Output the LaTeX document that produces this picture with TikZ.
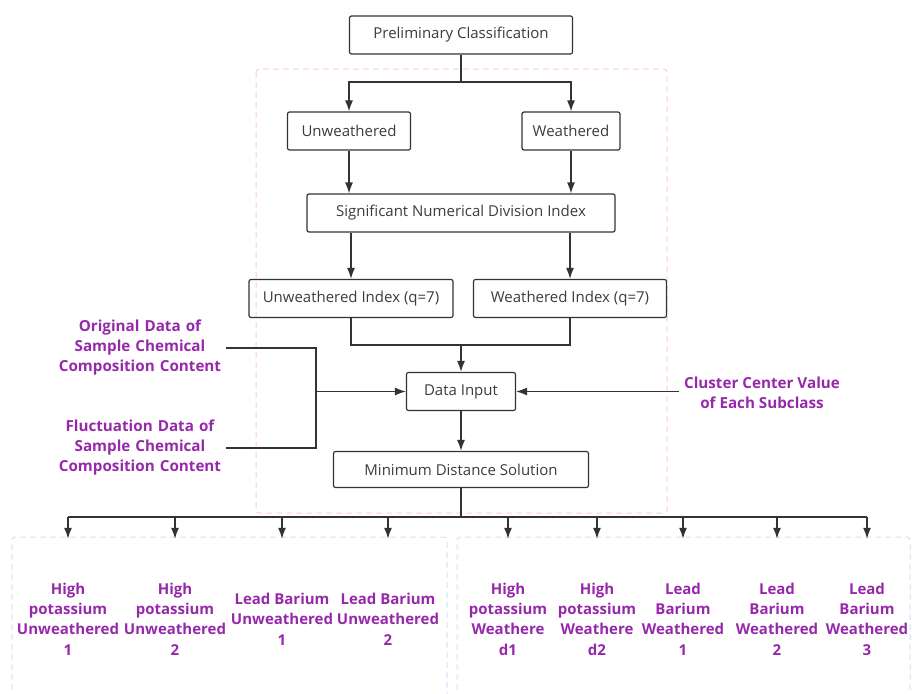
\documentclass[tikz,border=0pt]{standalone}
\usepackage{fontspec}
\setmainfont{Open Sans}
\usetikzlibrary{arrows.meta}
\definecolor{boxtext}{RGB}{60,60,60}
\definecolor{lblpurple}{RGB}{150,40,170}
\definecolor{pinkline}{RGB}{255,205,210}
\definecolor{blueline}{RGB}{205,228,248}

\begin{document}
\begin{tikzpicture}[x=1pt,y=-1pt,
    box/.style={draw=black!80,line width=1.2pt,rounded corners=2pt,text=boxtext,
      font=\fontsize{15}{18}\selectfont,minimum height=38pt,inner sep=2pt},
    sidelbl/.style={text=lblpurple,font=\fontsize{15.2}{20}\selectfont\bfseries,
      align=center,inner sep=0pt},
    classlbl/.style={text=lblpurple,font=\fontsize{15}{20.4}\selectfont\bfseries,
      align=center,minimum height=160pt,inner sep=0pt},
    arr/.style={-{Latex[length=11pt,width=8pt]},line width=1.3pt,black!80},
    link/.style={line width=1.3pt,black!80}]
  \useasboundingbox (0,0) rectangle (912,693);

  % dashed groups
  \draw[pinkline,line width=1pt,dash pattern=on 6pt off 4pt,rounded corners=3pt]
    (256,69) rectangle (667,513);
  \draw[blueline,line width=1pt,dash pattern=on 6pt off 4pt,rounded corners=3pt]
    (12,700) |- (447,537) -- (447,700);
  \draw[blueline,line width=1pt,dash pattern=on 6pt off 4pt,rounded corners=3pt]
    (457,700) |- (910,537) -- (910,700);

  % flow boxes
  \node[box,minimum width=223pt] (pc) at (461,35) {Preliminary Classification};
  \node[box,minimum width=123pt] (unw) at (349,131) {Unweathered};
  \node[box,minimum width=98pt] (wth) at (571,131) {Weathered};
  \node[box,minimum width=308pt] (sndi) at (461,213) {Significant Numerical Division Index};
  \node[box,minimum width=204pt] (unwi) at (351,298.5) {Unweathered Index (q=7)};
  \node[box,minimum width=193pt] (wthi) at (570,298.5) {Weathered Index (q=7)};
  \node[box,minimum width=109pt] (din) at (461,391.5) {Data Input};
  \node[box,minimum width=255pt,minimum height=36pt] (mds) at (461,469.5) {Minimum Distance Solution};

  % side inputs
  \node[sidelbl,text width=172pt] (orig) at (140,348)
    {Original Data of\\Sample Chemical\\Composition Content};
  \node[sidelbl,text width=172pt] (fluc) at (140,448)
    {Fluctuation Data of\\Sample Chemical\\Composition Content};
  \node[sidelbl,inner xsep=5pt] (clus) at (762,393)
    {Cluster Center Value\\of Each Subclass};

  % subclasses
  \node[classlbl] (k1) at (68,619) {High\\potassium\\Unweathered\\1};
  \node[classlbl] (k2) at (175,619) {High\\potassium\\Unweathered\\2};
  \node[classlbl] (k3) at (282,619) {Lead Barium\\Unweathered\\1};
  \node[classlbl] (k4) at (388,619) {Lead Barium\\Unweathered\\2};
  \node[classlbl] (k5) at (508,619) {High\\potassium\\Weathere\\d1};
  \node[classlbl] (k6) at (597,619) {High\\potassium\\Weathere\\d2};
  \node[classlbl] (k7) at (683,619) {Lead\\Barium\\Weathered\\1};
  \node[classlbl] (k8) at (777,619) {Lead\\Barium\\Weathered\\2};
  \node[classlbl] (k9) at (867,619) {Lead\\Barium\\Weathered\\3};

  % connectors
  \coordinate (split) at (461,82);
  \draw[link] (pc.south) -- (split);
  \draw[arr] (split) -| (unw.north);
  \draw[arr] (split) -| (wth.north);
  \draw[arr] (unw.south) -- (unw.south |- sndi.north);
  \draw[arr] (wth.south) -- (wth.south |- sndi.north);
  \draw[arr] (sndi.south -| unwi.north) -- (unwi.north);
  \draw[arr] (sndi.south -| wthi.north) -- (wthi.north);

  \coordinate (merge) at (461,345);
  \draw[link] (unwi.south) |- (merge) -| (wthi.south);
  \draw[arr] (merge) -- (din.north);

  \coordinate (join) at (316,391.5);
  \draw[link] (orig.east) -| (join) |- (fluc.east);
  \draw[arr] (join) -- (din.west);
  \draw[arr] (clus.west |- din.east) -- (din.east);
  \draw[arr] (din.south) -- (mds.north);

  \coordinate (bus) at (461,517);
  \draw[link] (mds.south) -- (bus);
  \draw[link] (k1.north |- bus) -- (k9.north |- bus);
  \draw[arr] (k1.north |- bus) -- (k1.north);
  \draw[arr] (k2.north |- bus) -- (k2.north);
  \draw[arr] (k3.north |- bus) -- (k3.north);
  \draw[arr] (k4.north |- bus) -- (k4.north);
  \draw[arr] (k5.north |- bus) -- (k5.north);
  \draw[arr] (k6.north |- bus) -- (k6.north);
  \draw[arr] (k7.north |- bus) -- (k7.north);
  \draw[arr] (k8.north |- bus) -- (k8.north);
  \draw[arr] (k9.north |- bus) -- (k9.north);
\end{tikzpicture}
\end{document}
